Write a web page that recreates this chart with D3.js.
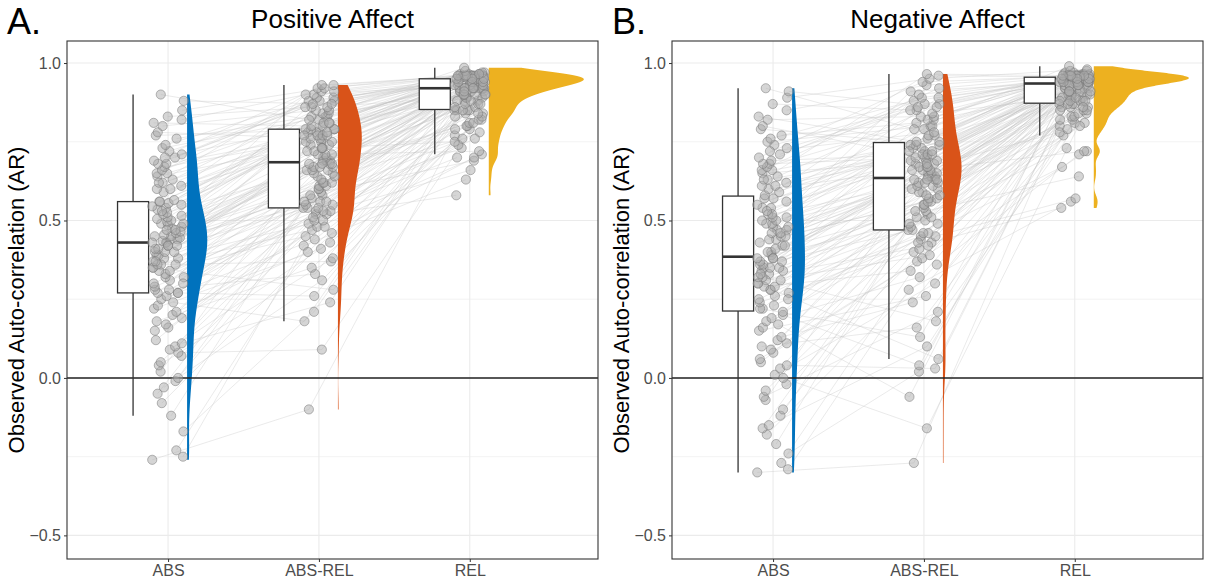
<!DOCTYPE html>
<html>
<head>
<meta charset="utf-8">
<script src="https://cdn.jsdelivr.net/npm/d3@7"></script>
<style>
  body { margin: 0; background: #fff; }
  text { font-family: "Liberation Sans", Arial, sans-serif; }
</style>
</head>
<body>
<svg id="chart" width="1205" height="585"></svg>
<script>
// conditions on the x axis and their cloud colours
const conditions = ['ABS', 'ABS-REL', 'REL'];
const cloudColors = ['#0072BD', '#D95319', '#EDB120'];
const yTicks = [-0.5, 0, 0.5, 1];
const yMinor = [-0.25, 0.25, 0.75];

// Positive affect, one value per participant and condition (same order in each list)
const paAbs = [
  -0.26, 0.07, 0.22, 0.31, 0.38, 0.43, 0.475, 0.535, 0.62, 0.72,
  -0.25, 0.08, 0.23, 0.32, 0.38, 0.43, 0.48, 0.54, 0.63, 0.73,
  -0.23, 0.09, 0.24, 0.32, 0.39, 0.435, 0.485, 0.545, 0.64, 0.74,
  -0.17, 0.10, 0.25, 0.33, 0.39, 0.44, 0.49, 0.55, 0.65, 0.76,
  -0.12, 0.11, 0.26, 0.34, 0.40, 0.44, 0.49, 0.555, 0.65, 0.77,
  -0.08, 0.12, 0.27, 0.34, 0.40, 0.445, 0.495, 0.56, 0.66, 0.78,
  -0.05, 0.15, 0.27, 0.35, 0.40, 0.45, 0.50, 0.56, 0.67, 0.80,
  -0.03, 0.16, 0.27, 0.35, 0.41, 0.45, 0.505, 0.565, 0.68, 0.81,
  -0.01, 0.17, 0.28, 0.36, 0.41, 0.455, 0.51, 0.59, 0.68, 0.82,
  0.00, 0.18, 0.28, 0.36, 0.42, 0.46, 0.515, 0.60, 0.69, 0.83,
  0.02, 0.19, 0.29, 0.36, 0.42, 0.465, 0.52, 0.60, 0.70, 0.85,
  0.04, 0.20, 0.30, 0.37, 0.42, 0.47, 0.525, 0.61, 0.70, 0.88,
  0.05, 0.21, 0.30, 0.37, 0.43, 0.47, 0.53, 0.62, 0.71, 0.90
];
const paAbsRel = [
  -0.10, 0.52, 0.41, 0.64, 0.57, 0.74, 0.69, 0.82, 0.78, 0.88,
  0.42, 0.09, 0.58, 0.52, 0.69, 0.65, 0.78, 0.74, 0.88, 0.83,
  0.53, 0.43, 0.18, 0.69, 0.65, 0.58, 0.83, 0.78, 0.75, 0.88,
  0.21, 0.59, 0.44, 0.53, 0.75, 0.66, 0.70, 0.89, 0.79, 0.83,
  0.66, 0.24, 0.53, 0.45, 0.60, 0.84, 0.70, 0.75, 0.89, 0.79,
  0.46, 0.54, 0.26, 0.60, 0.79, 0.71, 0.66, 0.90, 0.84, 0.76,
  0.61, 0.47, 0.67, 0.28, 0.54, 0.71, 0.90, 0.79, 0.76, 0.85,
  0.31, 0.48, 0.71, 0.54, 0.61, 0.67, 0.76, 0.85, 0.91, 0.80,
  0.55, 0.67, 0.33, 0.48, 0.86, 0.62, 0.80, 0.72, 0.77, 0.91,
  0.49, 0.35, 0.55, 0.77, 0.62, 0.68, 0.72, 0.81, 0.92, 0.86,
  0.73, 0.56, 0.50, 0.37, 0.68, 0.62, 0.81, 0.77, 0.86, 0.92,
  0.38, 0.63, 0.56, 0.50, 0.73, 0.93, 0.68, 0.77, 0.81, 0.87,
  0.51, 0.40, 0.64, 0.73, 0.56, 0.68, 0.78, 0.93, 0.87, 0.82
];
const paRel = [
  0.77, 0.58, 0.84, 0.88, 0.92, 0.91, 0.95, 0.94, 0.96, 0.955,
  0.63, 0.84, 0.78, 0.91, 0.88, 0.94, 0.92, 0.96, 0.95, 0.96,
  0.66, 0.79, 0.88, 0.85, 0.91, 0.93, 0.94, 0.96, 0.955, 0.95,
  0.85, 0.69, 0.79, 0.89, 0.91, 0.95, 0.93, 0.94, 0.96, 0.96,
  0.80, 0.89, 0.70, 0.85, 0.93, 0.91, 0.955, 0.94, 0.95, 0.96,
  0.70, 0.80, 0.85, 0.93, 0.89, 0.92, 0.94, 0.95, 0.965, 0.96,
  0.89, 0.71, 0.81, 0.85, 0.92, 0.94, 0.93, 0.96, 0.95, 0.965,
  0.81, 0.86, 0.72, 0.92, 0.90, 0.93, 0.955, 0.95, 0.96, 0.965,
  0.73, 0.82, 0.92, 0.86, 0.90, 0.95, 0.93, 0.96, 0.97, 0.96,
  0.87, 0.82, 0.74, 0.90, 0.95, 0.92, 0.93, 0.965, 0.96, 0.955,
  0.75, 0.92, 0.87, 0.83, 0.90, 0.94, 0.96, 0.95, 0.955, 0.97,
  0.83, 0.76, 0.87, 0.92, 0.90, 0.96, 0.94, 0.95, 0.975, 0.965,
  0.76, 0.88, 0.84, 0.91, 0.94, 0.92, 0.95, 0.96, 0.96, 0.985
];

// Negative affect
const naAbs = [
  -0.30, -0.02, 0.15, 0.26, 0.33, 0.39, 0.47, 0.54, 0.63, 0.74,
  -0.29, 0.00, 0.16, 0.27, 0.34, 0.40, 0.47, 0.54, 0.64, 0.75,
  -0.27, 0.01, 0.17, 0.28, 0.34, 0.40, 0.48, 0.55, 0.65, 0.76,
  -0.24, 0.03, 0.18, 0.28, 0.35, 0.41, 0.48, 0.56, 0.66, 0.77,
  -0.21, 0.04, 0.19, 0.29, 0.35, 0.42, 0.49, 0.57, 0.66, 0.79,
  -0.18, 0.05, 0.20, 0.29, 0.35, 0.42, 0.49, 0.57, 0.67, 0.80,
  -0.16, 0.06, 0.21, 0.30, 0.36, 0.43, 0.50, 0.58, 0.68, 0.82,
  -0.15, 0.08, 0.22, 0.30, 0.36, 0.44, 0.50, 0.59, 0.68, 0.83,
  -0.12, 0.09, 0.22, 0.31, 0.37, 0.44, 0.51, 0.60, 0.69, 0.85,
  -0.10, 0.10, 0.23, 0.31, 0.37, 0.45, 0.51, 0.61, 0.70, 0.87,
  -0.07, 0.11, 0.24, 0.32, 0.38, 0.45, 0.52, 0.61, 0.71, 0.89,
  -0.06, 0.12, 0.25, 0.32, 0.38, 0.46, 0.52, 0.62, 0.72, 0.91,
  -0.04, 0.13, 0.25, 0.33, 0.38, 0.46, 0.53, 0.63, 0.73, 0.92
];
const naAbsRel = [
  -0.27, 0.43, 0.26, 0.59, 0.51, 0.68, 0.64, 0.79, 0.72, 0.87,
  0.28, -0.16, 0.52, 0.44, 0.64, 0.59, 0.73, 0.68, 0.87, 0.80,
  0.45, 0.30, -0.06, 0.64, 0.60, 0.53, 0.80, 0.73, 0.69, 0.88,
  0.02, 0.53, 0.32, 0.45, 0.69, 0.60, 0.65, 0.89, 0.74, 0.81,
  0.61, 0.03, 0.46, 0.34, 0.54, 0.82, 0.65, 0.69, 0.89, 0.74,
  0.36, 0.46, 0.04, 0.55, 0.74, 0.65, 0.61, 0.90, 0.82, 0.70,
  0.55, 0.37, 0.62, 0.06, 0.47, 0.66, 0.91, 0.75, 0.70, 0.83,
  0.10, 0.38, 0.66, 0.47, 0.56, 0.62, 0.70, 0.83, 0.92, 0.75,
  0.48, 0.62, 0.13, 0.39, 0.84, 0.56, 0.76, 0.66, 0.71, 0.93,
  0.40, 0.16, 0.49, 0.71, 0.57, 0.63, 0.67, 0.77, 0.94, 0.85,
  0.67, 0.49, 0.41, 0.18, 0.63, 0.57, 0.77, 0.71, 0.85, 0.95,
  0.21, 0.58, 0.50, 0.42, 0.67, 0.96, 0.63, 0.72, 0.78, 0.86,
  0.43, 0.24, 0.58, 0.68, 0.51, 0.63, 0.72, 0.965, 0.86, 0.79
];
const naRel = [
  0.80, 0.54, 0.86, 0.89, 0.94, 0.91, 0.955, 0.94, 0.96, 0.96,
  0.56, 0.86, 0.81, 0.92, 0.89, 0.95, 0.94, 0.96, 0.955, 0.96,
  0.57, 0.81, 0.89, 0.86, 0.92, 0.94, 0.95, 0.965, 0.96, 0.955,
  0.87, 0.64, 0.82, 0.89, 0.92, 0.955, 0.94, 0.95, 0.96, 0.96,
  0.82, 0.90, 0.67, 0.87, 0.94, 0.92, 0.96, 0.95, 0.96, 0.965,
  0.71, 0.83, 0.87, 0.94, 0.90, 0.92, 0.95, 0.955, 0.97, 0.96,
  0.90, 0.72, 0.83, 0.87, 0.92, 0.95, 0.94, 0.96, 0.96, 0.965,
  0.84, 0.88, 0.72, 0.93, 0.90, 0.94, 0.96, 0.95, 0.96, 0.975,
  0.73, 0.84, 0.93, 0.88, 0.90, 0.95, 0.94, 0.955, 0.965, 0.96,
  0.88, 0.85, 0.77, 0.91, 0.95, 0.93, 0.94, 0.97, 0.96, 0.96,
  0.78, 0.93, 0.88, 0.85, 0.91, 0.94, 0.96, 0.95, 0.96, 0.98,
  0.85, 0.79, 0.88, 0.93, 0.91, 0.955, 0.94, 0.95, 0.975, 0.96,
  0.80, 0.89, 0.86, 0.91, 0.94, 0.93, 0.95, 0.96, 0.96, 0.99
];

const panels = [
  { tag: 'A.', title: 'Positive Affect', series: [paAbs, paAbsRel, paRel], left: 67 },
  { tag: 'B.', title: 'Negative Affect', series: [naAbs, naAbsRel, naRel], left: 672 }
];

// layout (x offsets are in x-axis units, one unit = one condition)
const plotW = 531, plotTop = 41, plotBottom = 559;
const boxOff = -0.232, boxHalf = 0.103, jitterHalf = 0.105, cloudOff = 0.126, cloudMax = 0.63;
const bwAdjust = 0.8;

const svg = d3.select('#chart');
const y = d3.scaleLinear().domain([-0.575, 1.07]).range([plotBottom, plotTop]);

function nrd0(v) {
  const s = d3.deviation(v);
  const iqr = d3.quantile(v, 0.75) - d3.quantile(v, 0.25);
  return 0.9 * Math.min(s, iqr / 1.34) * Math.pow(v.length, -0.2);
}

function density(v) {
  const bw = nrd0(v) * bwAdjust;
  const lo = d3.min(v), hi = d3.max(v);
  return d3.range(512).map(i => {
    const t = lo + (hi - lo) * i / 511;
    const d = d3.mean(v, a => Math.exp(-0.5 * ((t - a) / bw) ** 2)) / (bw * Math.sqrt(2 * Math.PI));
    return [t, d];
  });
}

function boxStats(v) {
  const q1 = d3.quantile(v, 0.25), med = d3.quantile(v, 0.5), q3 = d3.quantile(v, 0.75);
  const iqr = q3 - q1;
  const lo = d3.min(v.filter(a => a >= q1 - 1.5 * iqr));
  const hi = d3.max(v.filter(a => a <= q3 + 1.5 * iqr));
  return { q1, med, q3, lo, hi };
}

// fixed, hash-like spread of the points inside the jitter band
function jitter(i, g) {
  const h = Math.sin(i * 12.9898 + g * 78.233) * 43758.5453;
  return (h - Math.floor(h) - 0.5) * 2 * jitterHalf;
}

panels.forEach(p => {
  const right = p.left + plotW;
  const x = d3.scaleLinear().domain([0.33, 3.85]).range([p.left, right]);
  const g = svg.append('g');

  // grid
  g.selectAll('.minor').data(yMinor).join('line')
    .attr('x1', p.left).attr('x2', right)
    .attr('y1', d => y(d)).attr('y2', d => y(d))
    .attr('stroke', '#ebebeb').attr('stroke-width', 0.6);
  g.selectAll('.major').data(yTicks).join('line')
    .attr('x1', p.left).attr('x2', right)
    .attr('y1', d => y(d)).attr('y2', d => y(d))
    .attr('stroke', '#ebebeb').attr('stroke-width', 1.1);
  g.selectAll('.vgrid').data([1, 2, 3]).join('line')
    .attr('x1', d => x(d)).attr('x2', d => x(d))
    .attr('y1', plotTop).attr('y2', plotBottom)
    .attr('stroke', '#ebebeb').attr('stroke-width', 1.1);

  // participant lines
  const n = p.series[0].length;
  const pos = p.series.map((vals, k) => vals.map((v, i) => [x(k + 1 + jitter(i, k)), y(v)]));
  const line = d3.line();
  g.append('g').selectAll('path').data(d3.range(n)).join('path')
    .attr('d', i => line(pos.map(s => s[i])))
    .attr('fill', 'none')
    .attr('stroke', '#c4c4c4')
    .attr('stroke-opacity', 0.6)
    .attr('stroke-width', 0.6);

  // half violins (clouds)
  const dens = p.series.map(density);
  const dmax = d3.max(dens, ds => d3.max(ds, d => d[1]));
  const cloudW = x(1 + cloudMax) - x(1);
  dens.forEach((ds, k) => {
    const x0 = x(k + 1 + cloudOff);
    const area = d3.area()
      .y(d => y(d[0]))
      .x0(x0)
      .x1(d => x0 + d[1] / dmax * cloudW);
    g.append('path').datum(ds)
      .attr('d', area)
      .attr('fill', cloudColors[k]);
  });

  // zero line
  g.append('line')
    .attr('x1', p.left).attr('x2', right)
    .attr('y1', y(0)).attr('y2', y(0))
    .attr('stroke', '#222').attr('stroke-width', 1.4);

  // boxplots
  p.series.forEach((vals, k) => {
    const s = boxStats(vals);
    const cx = x(k + 1 + boxOff);
    const bx0 = x(k + 1 + boxOff - boxHalf), bx1 = x(k + 1 + boxOff + boxHalf);
    const bg = g.append('g').attr('stroke', '#333');
    bg.append('line').attr('x1', cx).attr('x2', cx).attr('y1', y(s.hi)).attr('y2', y(s.q3)).attr('stroke-width', 1.3);
    bg.append('line').attr('x1', cx).attr('x2', cx).attr('y1', y(s.q1)).attr('y2', y(s.lo)).attr('stroke-width', 1.3);
    bg.append('rect')
      .attr('x', bx0).attr('width', bx1 - bx0)
      .attr('y', y(s.q3)).attr('height', y(s.q1) - y(s.q3))
      .attr('fill', '#fff').attr('stroke-width', 1.3);
    bg.append('line').attr('x1', bx0).attr('x2', bx1).attr('y1', y(s.med)).attr('y2', y(s.med)).attr('stroke-width', 2.6);
  });

  // raw points
  pos.forEach(s => {
    g.append('g').selectAll('circle').data(s).join('circle')
      .attr('cx', d => d[0]).attr('cy', d => d[1]).attr('r', 4.6)
      .attr('fill', '#ababab').attr('fill-opacity', 0.5)
      .attr('stroke', '#777').attr('stroke-opacity', 0.65).attr('stroke-width', 0.8);
  });

  // panel border
  g.append('rect')
    .attr('x', p.left).attr('y', plotTop)
    .attr('width', plotW).attr('height', plotBottom - plotTop)
    .attr('fill', 'none').attr('stroke', '#333').attr('stroke-width', 1.1);

  // axes
  const yAxis = g.append('g').attr('transform', `translate(${p.left},0)`)
    .call(d3.axisLeft(y).tickValues(yTicks).tickFormat(d3.format('.1f')).tickSize(3).tickPadding(3));
  const xAxis = g.append('g').attr('transform', `translate(0,${plotBottom})`)
    .call(d3.axisBottom(x).tickValues([1, 2, 3]).tickFormat(d => conditions[d - 1]).tickSize(3).tickPadding(3));
  [yAxis, xAxis].forEach(a => {
    a.select('.domain').remove();
    a.selectAll('.tick line').attr('stroke', '#333');
    a.selectAll('.tick text').attr('fill', '#4d4d4d').style('font-size', '16px')
      .style('font-family', '"Liberation Sans", Arial, sans-serif');
  });

  // titles
  g.append('text')
    .attr('transform', `translate(${p.left - 43},${(plotTop + plotBottom) / 2}) rotate(-90)`)
    .attr('text-anchor', 'middle')
    .style('font-size', '22px')
    .attr('fill', '#000')
    .text('Observed Auto-correlation (AR)');
  g.append('text')
    .attr('x', (p.left + right) / 2).attr('y', 28)
    .attr('text-anchor', 'middle')
    .style('font-size', '26px')
    .text(p.title);
  g.append('text')
    .attr('x', p.left - 60).attr('y', 34)
    .style('font-size', '36px')
    .text(p.tag);
});
</script>
</body>
</html>
